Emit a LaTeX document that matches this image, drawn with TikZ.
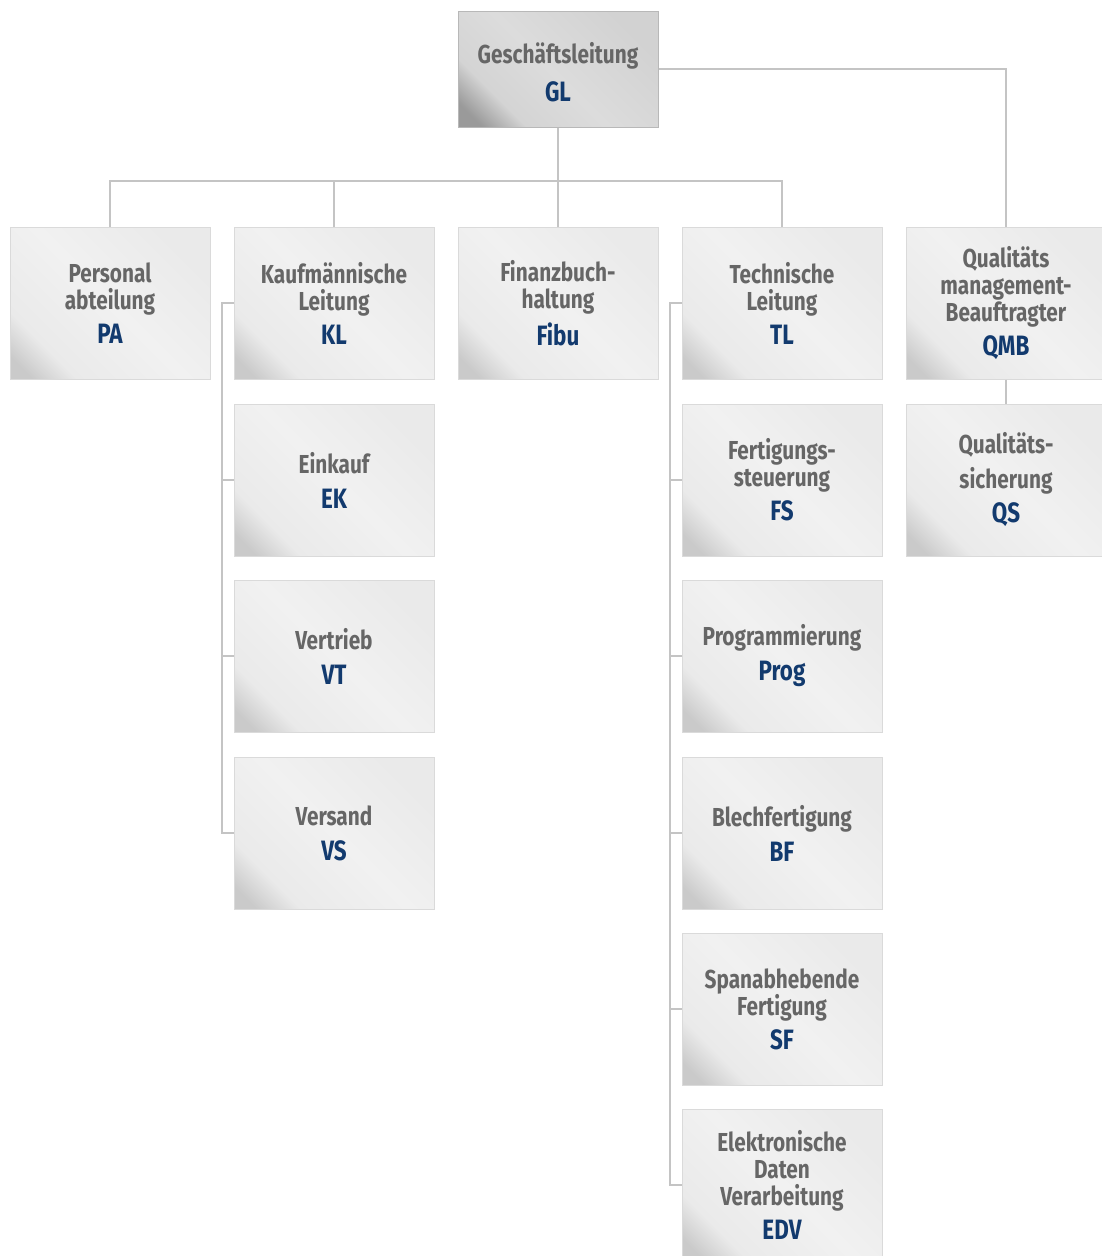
\documentclass[tikz,border=0pt]{standalone}
\usepackage{fontspec}
\newfontfamily\orgfont[FakeStretch=0.8]{Fira Sans}
\definecolor{namegray}{HTML}{666666}
\definecolor{acrblue}{HTML}{123A6E}
\definecolor{linegray}{HTML}{C4C4C4}
\definecolor{boxborder}{HTML}{DADADA}
\definecolor{glborder}{HTML}{B8B8B8}
\definecolor{shA}{HTML}{CACACA}
\definecolor{shB}{HTML}{EAEAEA}
\definecolor{shC}{HTML}{F1F1F1}
\definecolor{shD}{HTML}{EAEAEA}
\definecolor{gA}{HTML}{9A9A9A}
\definecolor{gB}{HTML}{D4D4D4}
\definecolor{gC}{HTML}{DCDCDC}
\definecolor{gD}{HTML}{D2D2D2}
\pgfdeclarehorizontalshading{boxshade}{100bp}{color(0bp)=(shA); color(19bp)=(shA); color(28bp)=(shB); color(50bp)=(shC); color(75bp)=(shD); color(100bp)=(shD)}
\pgfdeclarehorizontalshading{glshade}{100bp}{color(0bp)=(gA); color(20bp)=(gA); color(30bp)=(gB); color(48bp)=(gC); color(75bp)=(gD); color(100bp)=(gD)}
\newcommand{\acr}[1]{{\fontsize{28}{30}\selectfont\color{acrblue}#1}}
\tikzset{
  orgbox/.style={draw=boxborder, line width=1pt, shading=boxshade, shading angle=45,
    minimum width=200pt, minimum height=152pt, inner sep=0pt, align=center,
    font=\orgfont\bfseries\fontsize{26}{27}\selectfont, text=namegray},
  glbox/.style={orgbox, draw=glborder, shading=glshade, minimum height=116pt},
  conn/.style={draw=linegray, line width=1.5pt}
}
\begin{document}
\begin{tikzpicture}[x=1pt,y=-1pt]
\useasboundingbox (0,0) rectangle (1102,1256);
\fill[white] (0,0) rectangle (1102,1256);
% top
\node[glbox] (GL) at (558,69) {\rule{0pt}{27pt}Geschäftsleitung\\[11pt]\acr{GL}};
% first row
\node[orgbox] (PA) at (110,303) {Personal\\abteilung\\[7pt]\acr{PA}};
\node[orgbox] (KL) at (334,303) {Kaufmännische\\Leitung\\[7pt]\acr{KL}};
\node[orgbox] (FIBU) at (558,303) {Finanzbuch-\\haltung\\[7pt]\acr{Fibu}};
\node[orgbox] (TL) at (782,303) {Technische\\Leitung\\[7pt]\acr{TL}};
\node[orgbox] (QMB) at (1006,303) {Qualitäts\\management-\\Beauftragter\\[7pt]\acr{QMB}};
% KL column
\node[orgbox] (EK) at (334,480) {Einkauf\\[8pt]\acr{EK}};
\node[orgbox] (VT) at (334,656) {Vertrieb\\[8pt]\acr{VT}};
\node[orgbox] (VS) at (334,833) {Versand\\[8pt]\acr{VS}};
% TL column
\node[orgbox] (FS) at (782,480) {Fertigungs-\\steuerung\\[7pt]\acr{FS}};
\node[orgbox] (PROG) at (782,656) {Programmierung\\[8pt]\acr{Prog}};
\node[orgbox] (BF) at (782,833) {Blechfertigung\\[8pt]\acr{BF}};
\node[orgbox] (SF) at (782,1009) {Spanabhebende\\Fertigung\\[7pt]\acr{SF}};
\node[orgbox] (EDV) at (782,1185) {Elektronische\\Daten\\Verarbeitung\\[7pt]\acr{EDV}};
% QMB column
\node[orgbox] (QS) at (1006,480) {Qualitäts-\\[8pt]sicherung\\[7pt]\acr{QS}};
% connectors
\coordinate (bus) at (558,181);
\draw[conn] (GL.south) -- (bus);
\draw[conn] (PA.north) |- (bus);
\draw[conn] (KL.north) |- (bus);
\draw[conn] (FIBU.north) -- (bus);
\draw[conn] (TL.north) |- (bus);
\draw[conn] (GL.east) -| (QMB.north);
\draw[conn] (QMB.south) -- (QS.north);
\coordinate (klx) at (222,0);
\coordinate (tlx) at (670,0);
\draw[conn] (KL.west) -| (klx |- VS.west) -- (VS.west);
\draw[conn] (klx |- EK.west) -- (EK.west);
\draw[conn] (klx |- VT.west) -- (VT.west);
\draw[conn] (TL.west) -| (tlx |- EDV.west) -- (EDV.west);
\foreach \n in {FS,PROG,BF,SF}{\draw[conn] (tlx |- \n.west) -- (\n.west);}
\end{tikzpicture}
\end{document}
